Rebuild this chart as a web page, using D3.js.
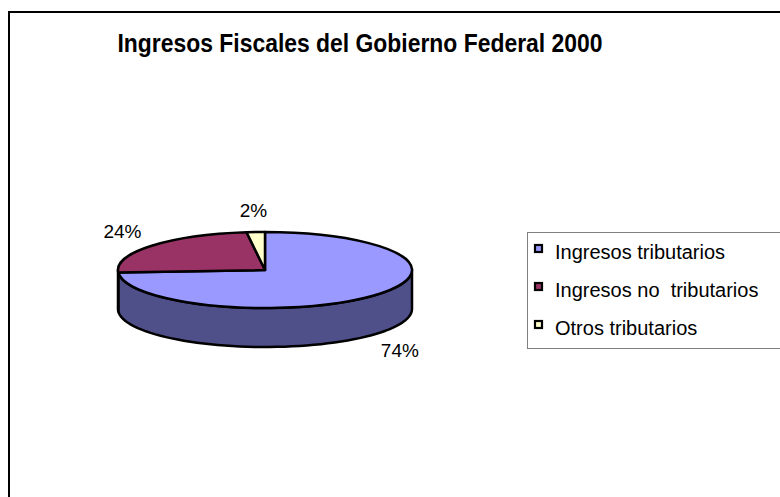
<!DOCTYPE html>
<html>
<head>
<meta charset="utf-8">
<script src="https://cdn.jsdelivr.net/npm/d3@7"></script>
<style>
  body { margin: 0; background: #fff; }
  svg { display: block; font-family: "Liberation Sans", Arial, sans-serif; }
</style>
</head>
<body>
<div id="vis"></div>
<script>
// data
var categories = ["Ingresos tributarios", "Ingresos no  tributarios", "Otros tributarios"];
var values = [74, 24, 2];
var topColors = ["#9999ff", "#993366", "#ffffcc"];
var sideColors = ["#4f4f8a", "#5c1f3d", "#99997a"];
var title = "Ingresos Fiscales del Gobierno Federal 2000";

var width = 780, height = 497;
var cx = 265, cy = 270, rx = 147, ry = 38, depth = 39;

var svg = d3.select("#vis")
    .append("svg")
    .attr("width", width)
    .attr("height", height);

// outer frame (runs off the right and bottom of the picture)
svg.append("rect")
    .attr("x", 9).attr("y", 12)
    .attr("width", width).attr("height", height)
    .attr("fill", "#fff")
    .attr("stroke", "#000")
    .attr("stroke-width", 2);

svg.append("text")
    .attr("x", 360).attr("y", 52)
    .attr("text-anchor", "middle")
    .attr("font-size", 26)
    .attr("font-weight", "bold")
    .attr("textLength", 485)
    .attr("lengthAdjust", "spacingAndGlyphs")
    .text(title);

////////// pie //////////
var pie = d3.pie().sort(null).value(function(d) { return d; });
var arcs = pie(values);
var total = d3.sum(values);

// point on the top ellipse for an angle (0 = 12 o'clock, clockwise)
function ex(a) { return cx + rx * Math.sin(a); }
function ey(a) { return cy - ry * Math.cos(a); }

var line = d3.line();

// side walls, only the front half of the disc is visible
var sides = svg.append("g").attr("class", "sides");
arcs.forEach(function(d, i) {
  var s = Math.max(d.startAngle, Math.PI / 2),
      e = Math.min(d.endAngle, 3 * Math.PI / 2);
  if (s >= e) return;
  var n = 60, pts = [], k, a;
  for (k = 0; k <= n; k++) {
    a = s + (e - s) * k / n;
    pts.push([ex(a), ey(a)]);
  }
  for (k = n; k >= 0; k--) {
    a = s + (e - s) * k / n;
    pts.push([ex(a), ey(a) + depth]);
  }
  sides.append("path")
      .attr("d", line(pts) + "Z")
      .attr("fill", sideColors[i])
      .attr("stroke", "#000")
      .attr("stroke-width", 2.5)
      .attr("stroke-linejoin", "round");
});

// top faces
var arc = d3.arc().innerRadius(0).outerRadius(rx);
svg.append("g")
    .attr("transform", "translate(" + cx + "," + cy + ") scale(1," + (ry / rx) + ")")
  .selectAll("path")
    .data(arcs)
    .enter()
    .append("path")
    .attr("d", arc)
    .attr("fill", function(d, i) { return topColors[i]; })
    .attr("stroke", "#000")
    .attr("stroke-width", 2.5)
    .attr("stroke-linejoin", "round")
    .attr("vector-effect", "non-scaling-stroke");

// percentage labels
svg.append("g")
  .selectAll("text")
    .data(arcs)
    .enter()
    .append("text")
    .attr("x", function(d) { return cx + 185 * Math.sin((d.startAngle + d.endAngle) / 2); })
    .attr("y", function(d) {
      var c = Math.cos((d.startAngle + d.endAngle) / 2);
      return cy - 60 * c + (c < 0 ? depth : 0);
    })
    .attr("text-anchor", "middle")
    .attr("dominant-baseline", "central")
    .attr("font-size", 19)
    .text(function(d) { return Math.round(d.value / total * 100) + "%"; });

////////// legend //////////
var legend = svg.append("g").attr("class", "legend");
legend.append("rect")
    .attr("x", 527.5).attr("y", 232.5)
    .attr("width", 300).attr("height", 116)
    .attr("fill", "#fff")
    .attr("stroke", "#808080")
    .attr("stroke-width", 1);

var item = legend.selectAll(".item")
    .data(categories)
    .enter()
    .append("g")
    .attr("class", "item")
    .attr("transform", function(d, i) { return "translate(0," + (i * 38) + ")"; });

item.append("rect")
    .attr("x", 535).attr("y", 245)
    .attr("width", 7).attr("height", 7)
    .attr("fill", function(d, i) { return topColors[i]; })
    .attr("stroke", "#000")
    .attr("stroke-width", 2.2);

item.append("text")
    .attr("x", 555).attr("y", 259)
    .attr("font-size", 20)
    .style("white-space", "pre")
    .text(function(d) { return d; });
</script>
</body>
</html>
